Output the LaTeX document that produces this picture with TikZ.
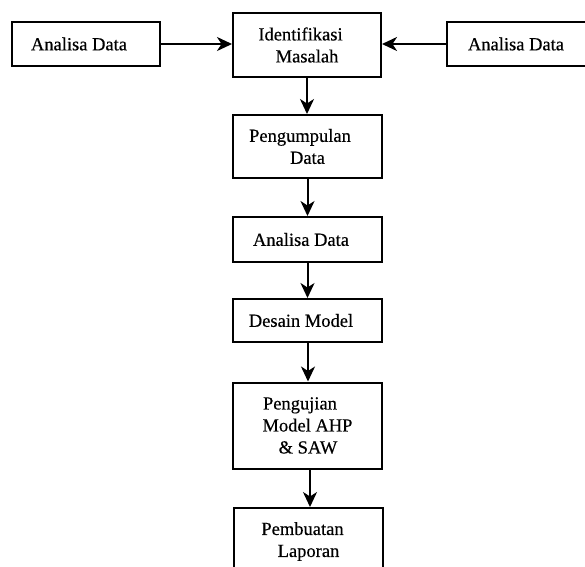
\documentclass[tikz,border=0pt]{standalone}
\usepackage{fontspec}
\setmainfont{Liberation Serif}[FakeBold=0.4]
\usetikzlibrary{arrows.meta}
\begin{document}
\begin{tikzpicture}[x=1pt,y=-1pt,
  box/.style={draw, line width=2pt, inner sep=0pt, align=center,
    font=\fontsize{18.5}{22}\selectfont},
  arr/.style={line width=2pt, -{Stealth[length=15pt,width=14pt,inset=4.5pt]}}]
\useasboundingbox (0,0) rectangle (585,566);
\clip (0,0) rectangle (585,566);
\node[box, minimum width=148pt, minimum height=44pt] (L) at (86,44) {Analisa Data\kern14pt};
\node[box, minimum width=148pt, minimum height=64pt] (I) at (307,45) {Identifikasi\kern13pt\\Masalah};
\node[box, minimum width=148pt, minimum height=44pt] (R) at (521,44) {Analisa Data\kern10pt};
\node[box, minimum width=149pt, minimum height=63pt] (P1) at (307.5,146.5) {Pengumpulan\kern15pt\\Data};
\node[box, minimum width=149pt, minimum height=45pt] (A) at (307.5,239.5) {Analisa Data\kern13pt};
\node[box, minimum width=149pt, minimum height=43pt] (D) at (307.5,320.5) {Desain Model\kern13pt};
\node[box, minimum width=149pt, minimum height=86pt] (PU) at (307.5,425.5) {Pengujian\kern15pt\\Model AHP\\\kern1pt\& SAW};
\node[box, minimum width=149pt, minimum height=67pt] (PB) at (308.5,541.5) {Pembuatan\kern12pt\\Laporan};
\draw[arr] (L.east) -- (L.east -| I.west);
\draw[arr] (R.west) -- (R.west -| I.east);
\draw[arr] (I.south) -- (I.south |- P1.north);
\draw[arr] (P1.south) -- (P1.south |- A.north);
\draw[arr] (A.south) -- (A.south |- D.north);
\draw[arr] ([xshift=0.5pt]D.south) -- ([xshift=0.5pt]D.south |- PU.north);
\draw[arr] ([xshift=2.5pt]PU.south) -- ([xshift=2.5pt]PU.south |- PB.north);
\end{tikzpicture}
\end{document}
